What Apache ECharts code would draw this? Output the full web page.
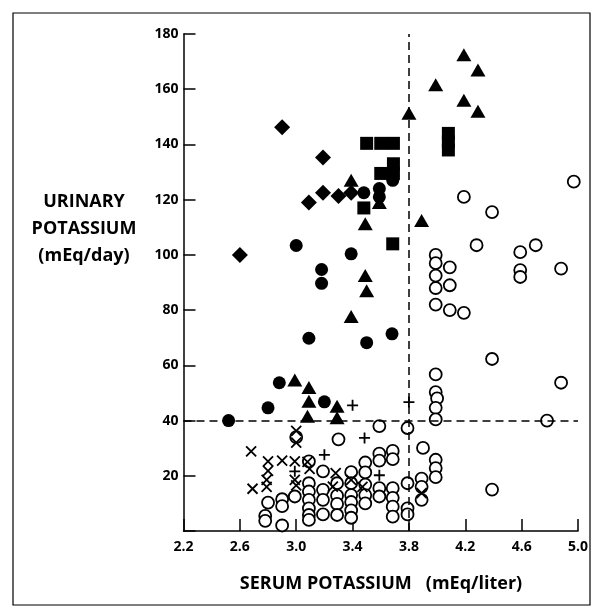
<!DOCTYPE html>
<html>
<head>
<meta charset="utf-8">
<script src="https://cdn.jsdelivr.net/npm/echarts@6/dist/echarts.min.js"></script>
<style>html,body{margin:0;padding:0;background:#fff}#c{width:600px;height:613px}</style>
</head>
<body>
<div id="c"></div>
<script>
// ---- data (serum K mEq/liter, urinary K mEq/day) ----
const xTicks = [2.2, 2.6, 3.0, 3.4, 3.8, 4.2, 4.6, 5.0];
const yTicks = [20, 40, 60, 80, 100, 120, 140, 160, 180];
const diamonds = [[2.9,146.2],[3.19,135.3],[3.09,119],[3.19,122.5],[3.3,121.3],[3.39,122.5],[2.6,100]];
const squares = [[3.5,140.4],[3.6,140.4],[3.69,140.4],[3.69,133],[3.6,129.5],[3.69,129.5],[4.08,144],[4.08,141],[4.08,138],[3.48,117],[3.685,104]];
const triangles = [[4.19,172.5],[4.29,167],[3.99,161.6],[4.19,156],[4.29,152],[3.8,151.3],[3.89,112.5],[3.39,127],[3.59,119],[3.49,111.3],[3.49,92.5],[3.5,87],[3.39,77.7],[2.99,54.7],[3.09,52],[3.09,47],[3.29,45.2],[3.29,41],[3.08,41.6]];
const filledCircles = [[2.52,40],[2.88,53.7],[2.8,44.6],[3.2,46.8],[3.0,103.4],[3.39,100.4],[3.18,94.7],[3.18,89.7],[3.09,69.8],[3.5,68.2],[3.68,71.4],[3.48,122.5],[3.59,124],[3.59,121],[3.685,127]];
const openCircles = [
  [4.97,126.5],[4.19,121],[4.39,115.5],[4.28,103.5],[4.59,101],[4.70,103.5],[4.59,94.5],[4.59,92],[4.88,95],
  [3.99,100],[3.99,97],[4.09,95.5],[3.99,92.5],[3.99,88],[4.09,89],[3.99,82],[4.09,80],[4.19,79],
  [4.39,62.3],[4.88,53.7],[3.99,56.7],[3.99,50.3],[4.0,48],[3.99,44.6],[3.99,40.4],[4.78,40],
  [3.59,38],[3.79,37.3],[3.30,33.2],[3.0,34],[3.90,30.1],
  [3.59,28],[3.59,25.5],[3.685,29],[3.685,26],
  [3.49,24.8],[3.49,21.2],[3.49,16.8],[3.49,13],[3.49,10],
  [3.39,21.3],[3.39,17.3],[3.39,13],[3.39,10.5],[3.39,7.5],[3.39,4.8],
  [3.29,17.3],[3.29,12.8],[3.29,9.8],[3.29,5.8],
  [3.19,21.6],[3.19,14.9],[3.19,11.3],[3.19,6],
  [3.09,25.2],[3.09,17.3],[3.09,14.3],[3.09,11.3],[3.09,8.2],[3.09,5.8],[3.09,4],
  [2.99,12.5],[2.9,11.5],[2.9,9],[2.9,2],[2.8,10.3],[2.78,5.5],[2.78,3.7],
  [3.59,15.5],[3.59,12.5],[3.685,15.5],[3.685,12],[3.685,8.8],[3.685,5.2],
  [3.79,17.3],[3.79,8.2],[3.79,6],
  [3.89,19],[3.89,16],[3.89,11.3],[3.99,25.8],[3.99,22.8],[3.99,19.5],[4.39,15]
];
const crosses = [[2.68,28.8],[3.0,36.3],[3.0,32],[2.8,25.2],[2.9,25.5],[2.99,25.2],[3.08,25],[2.8,21.8],[2.79,18.5],[2.69,15.3],[2.79,16],[2.99,18.5],[3.0,16.5],[3.095,22.5],[3.28,21],[3.26,16.1],[3.39,18.5],[3.47,16],[3.89,13.7]];
const pluses = [[3.4,45.5],[3.8,46.7],[3.485,33.7],[3.2,27.6],[2.99,21.6],[3.59,20.2]];
const refX = 3.8, refY = 40;

const fontFam = '"Open Sans", "DejaVu Sans", sans-serif';
const chart = echarts.init(document.getElementById('c'));
const filled = {color:'#000', opacity:1};
function ser(data, symbol, size, style){
  return {type:'scatter', data, symbol, symbolSize:size, itemStyle:style, silent:true, z:3};
}
const openStyle = {color:'#fff', borderColor:'#000', borderWidth:1.8, opacity:1};
const strokeStyle = {color:'none', borderColor:'#000', borderWidth:1.8, opacity:1};
chart.setOption({
  animation:false,
  backgroundColor:'#fff',
  grid:{left:183.5, right:22, top:34, bottom:82, containLabel:false},
  xAxis:{type:'value', min:2.2, max:5.0, interval:0.4,
    axisLine:{lineStyle:{color:'#000', width:1.5}},
    axisTick:{inside:true, length:12, lineStyle:{color:'#000', width:1.5}},
    splitLine:{show:false},
    axisLabel:{color:'#000', fontFamily:fontFam, fontWeight:'bold', fontSize:14, margin:9,
      formatter:v=>{const t=xTicks.find(k=>Math.abs(k-v)<1e-6);return t===undefined?'':t.toFixed(1);}}
  },
  yAxis:{type:'value', min:0, max:180, interval:20,
    axisLine:{show:true, lineStyle:{color:'#000', width:1.5}},
    axisTick:{inside:true, length:12, lineStyle:{color:'#000', width:1.5}},
    splitLine:{show:false},
    axisLabel:{color:'#000', fontFamily:fontFam, fontWeight:'bold', fontSize:14, margin:5,
      formatter:v=>yTicks.includes(v)?String(v):''}
  },
  graphic:[
    {type:'rect', shape:{x:13, y:13, width:577, height:592}, style:{fill:'none', stroke:'#000', lineWidth:1.2}, silent:true},
    {type:'text', x:84, y:229, style:{text:'URINARY\nPOTASSIUM\n(mEq/day)', font:'bold 18px '+fontFam, fill:'#000', align:'center', verticalAlign:'middle', lineHeight:27}},
    {type:'text', x:381, y:584, style:{text:'SERUM POTASSIUM   (mEq/liter)', font:'bold 18px '+fontFam, fill:'#000', align:'center', verticalAlign:'middle'}}
  ],
  series:[
    {type:'scatter', data:[], markLine:{silent:true, symbol:'none', animation:false,
      lineStyle:{color:'#000', type:[8,5], width:1.5},
      label:{show:false},
      data:[{xAxis:refX},{yAxis:refY}]}},
    ser(openCircles,'circle',12,openStyle),
    ser(crosses,'path://M0,0L10,10M10,0L0,10',10,strokeStyle),
    ser(pluses,'path://M5,0L5,10M0,5L10,5',11,strokeStyle),
    ser(filledCircles,'circle',13,filled),
    ser(triangles,'triangle',[15,13],filled),
    ser(squares,'rect',13,filled),
    ser(diamonds,'diamond',16,filled)
  ]
});
</script>
</body>
</html>
